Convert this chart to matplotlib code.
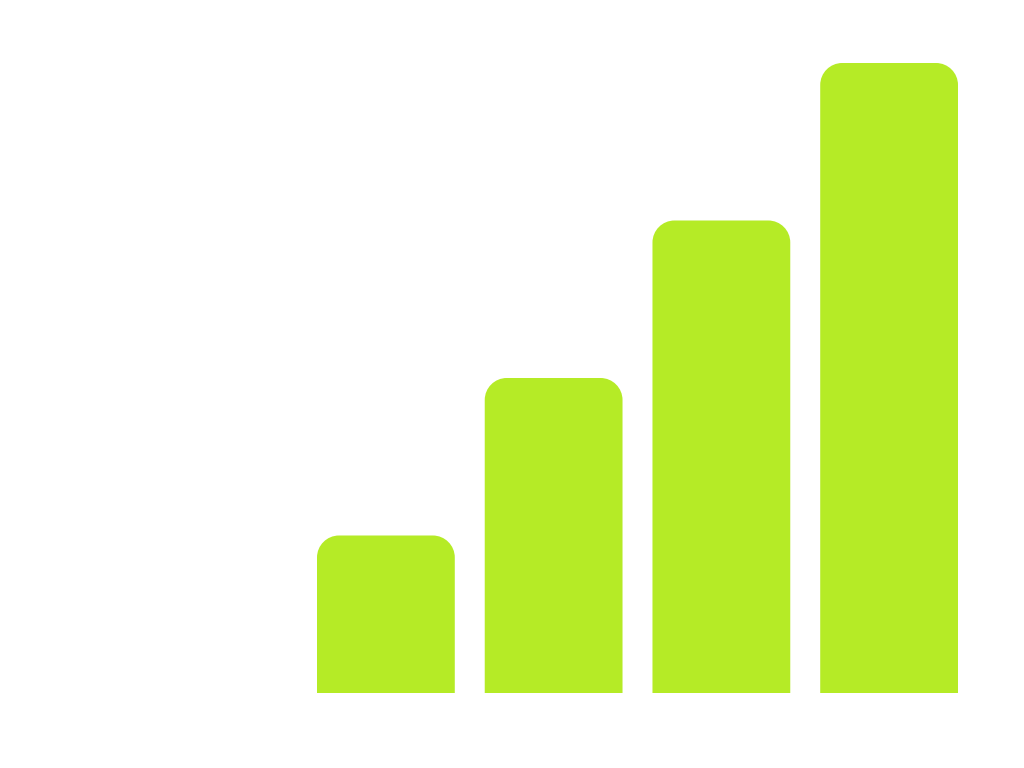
import matplotlib
matplotlib.use("Agg")
import matplotlib.pyplot as plt
from matplotlib.path import Path
from matplotlib.patches import PathPatch

# data
categories = ["A", "B", "C", "D"]
values = [1, 2, 3, 4]
bar_color = "#B5EB26"

fig = plt.figure(figsize=(10.24, 7.68), dpi=100)
# axes placed in pixel terms of the reference (left 317, right 958, bottom 693, top 63)
ax = fig.add_axes([317 / 1024, 75 / 768, 641 / 1024, 630 / 768])

width = 138 / 168
xs = list(range(len(categories)))
bars = ax.bar(xs, values, width=width, color=bar_color)
ax.set_xlim(-width / 2, len(categories) - 1 + width / 2)
ax.set_ylim(0, max(values))
ax.axis("off")

# rounded top corners, radius ~22px converted to data units per axis
fig.canvas.draw()
px_x = (ax.get_xlim()[1] - ax.get_xlim()[0]) / (641)
px_y = (ax.get_ylim()[1] - ax.get_ylim()[0]) / (630)
r_px = 22
rx, ry = r_px * px_x, r_px * px_y
k = 0.5523
for b in bars:
    x0, y0 = b.get_x(), b.get_y()
    w, h = b.get_width(), b.get_height()
    x1, y1 = x0 + w, y0 + h
    verts = [
        (x0, y0), (x0, y1 - ry),
        (x0, y1 - ry + k * ry), (x0 + rx - k * rx, y1), (x0 + rx, y1),
        (x1 - rx, y1),
        (x1 - rx + k * rx, y1), (x1, y1 - ry + k * ry), (x1, y1 - ry),
        (x1, y0), (x0, y0),
    ]
    codes = [Path.MOVETO, Path.LINETO,
             Path.CURVE4, Path.CURVE4, Path.CURVE4,
             Path.LINETO,
             Path.CURVE4, Path.CURVE4, Path.CURVE4,
             Path.LINETO, Path.CLOSEPOLY]
    b.remove()
    ax.add_patch(PathPatch(Path(verts, codes), facecolor=bar_color,
                           edgecolor="none", clip_on=False))

plt.savefig("out.png", dpi=100)
